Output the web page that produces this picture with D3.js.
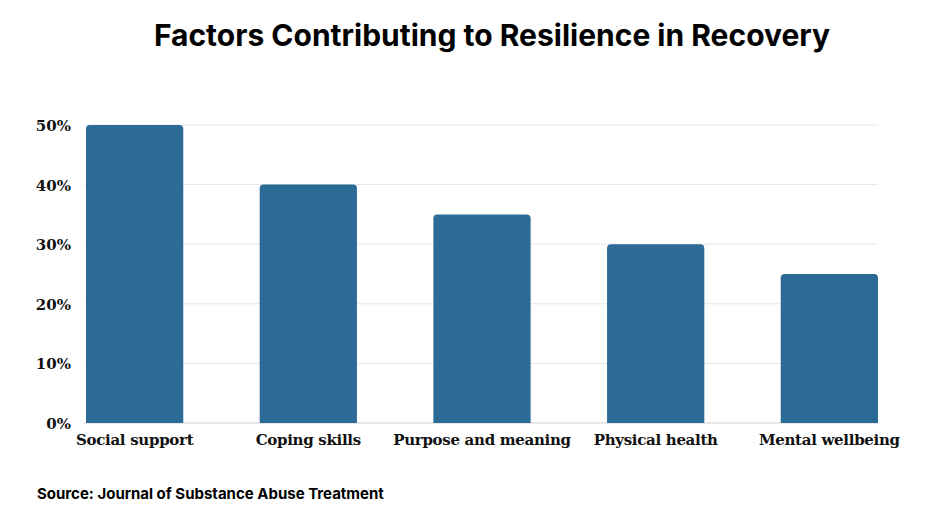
<!DOCTYPE html>
<html>
<head>
<meta charset="utf-8">
<script src="https://cdn.jsdelivr.net/npm/d3@7"></script>
<style>
body { margin: 0; background: #fff; }
</style>
</head>
<body>
<svg id="chart" width="936" height="526"></svg>
<script>
// values
var categories = ["Social support", "Coping skills", "Purpose and meaning", "Physical health", "Mental wellbeing"];
var values = [50, 40, 35, 30, 25];
var yTicks = [0, 10, 20, 30, 40, 50];

var svg = d3.select('#chart');

var x = d3.scaleBand().domain(categories)
	.range([47.8, 916.2]).paddingInner(0.44).paddingOuter(0.22);
var y = d3.scaleLinear().domain([0, 50]).range([423, 125]);

// title
svg.append('text')
	.attr('x', 492).attr('y', 46)
	.attr('text-anchor', 'middle')
	.style('font-family', 'Inter, "Open Sans", sans-serif')
	.style('font-weight', 'bold').style('font-size', '30px')
	.attr('fill', '#000')
	.text('Factors Contributing to Resilience in Recovery');

// gridlines
svg.append('g').selectAll('line').data(yTicks)
	.enter().append('line')
		.attr('x1', 84).attr('x2', 878)
		.attr('y1', function(d) { return y(d); })
		.attr('y2', function(d) { return y(d); })
		.attr('stroke', function(d) { return d === 0 ? '#cfcfcf' : '#e6e6e6'; })
		.attr('stroke-width', 1);

// y labels
svg.append('g').selectAll('text').data(yTicks)
	.enter().append('text')
		.attr('x', 71)
		.attr('y', function(d) { return y(d) + 6; })
		.attr('text-anchor', 'end')
		.style('font-family', '"DejaVu Serif", serif')
		.style('font-weight', 'bold').style('font-size', '15px')
		.attr('fill', '#111')
		.text(function(d) { return d + '%'; });

// bars with slightly rounded tops
var r = 4;
svg.append('g').selectAll('path').data(values)
	.enter().append('path')
		.attr('fill', '#2b6b96')
		.attr('d', function(d, i) {
			var x0 = x(categories[i]), w = x.bandwidth(), top = y(d), b = y(0);
			return 'M' + x0 + ',' + b + 'V' + (top + r) + 'Q' + x0 + ',' + top + ' ' + (x0 + r) + ',' + top +
				'H' + (x0 + w - r) + 'Q' + (x0 + w) + ',' + top + ' ' + (x0 + w) + ',' + (top + r) + 'V' + b + 'Z';
		});

// category labels
svg.append('g').selectAll('text').data(categories)
	.enter().append('text')
		.attr('x', function(d) { return x(d) + x.bandwidth() / 2; })
		.attr('y', 445)
		.attr('text-anchor', 'middle')
		.style('font-family', '"DejaVu Serif", serif')
		.style('font-weight', 'bold').style('font-size', '15px')
		.style('letter-spacing', '-0.3px')
		.attr('fill', '#111')
		.text(function(d) { return d; });

// source
svg.append('text')
	.attr('x', 37).attr('y', 499)
	.style('font-family', 'Inter, "Open Sans", sans-serif')
	.style('font-weight', 'bold').style('font-size', '15px')
	.attr('fill', '#000')
	.text('Source: Journal of Substance Abuse Treatment');
</script>
</body>
</html>
